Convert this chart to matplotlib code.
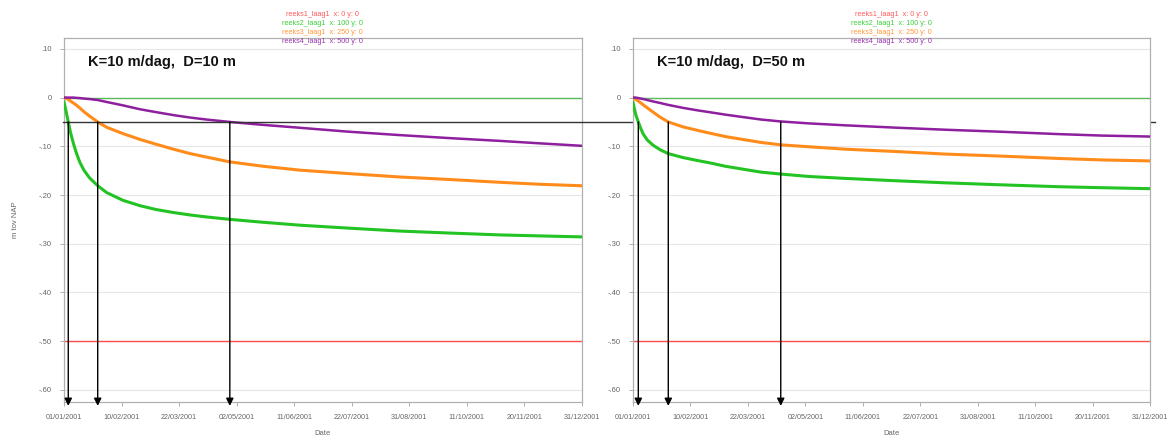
import matplotlib
matplotlib.use("Agg")
import matplotlib.pyplot as plt

# -----------------------------
# Data
# x = days since 01/01/2001, y = m tov NAP
# -----------------------------

TICK_DAYS = [0, 40.44, 80.89, 121.33, 161.78, 202.22, 242.67, 283.11, 323.56, 364]
TICK_LABELS = ["01/01/2001", "10/02/2001", "22/03/2001", "02/05/2001", "11/06/2001",
               "22/07/2001", "31/08/2001", "11/10/2001", "20/11/2001", "31/12/2001"]
Y_TICKS = [0.10, 0.0, -0.10, -0.20, -0.30, -0.40, -0.50, -0.60]
Y_LABELS = [".10", "0", "-.10", "-.20", "-.30", "-.40", "-.50", "-.60"]

LEGEND_LINES = ["reeks1_laag1  x: 0 y: 0", "reeks2_laag1  x: 100 y: 0",
                "reeks3_laag1  x: 250 y: 0", "reeks4_laag1  x: 500 y: 0"]

BOUNDARY_LEVEL = -0.50   # reeks1 (x = 0)
THRESHOLD = -0.05        # horizontal black line

# left panel: K=10 m/dag, D=10 m
LEFT_TITLE = "K=10 m/dag,  D=10 m"
LEFT_DAYS = [0, 1, 2, 3, 4.5, 6.5, 8.5, 11, 14, 18, 23.7, 30, 41.5, 53.5, 65, 77,
             88.7, 100, 116.6, 140, 166, 200, 236, 270, 307, 335, 364]
LEFT_GREEN = [-0.009, -0.022, -0.036, -0.050, -0.071, -0.093, -0.112, -0.132, -0.149,
              -0.165, -0.181, -0.195, -0.211, -0.222, -0.230, -0.236, -0.241, -0.245,
              -0.250, -0.256, -0.262, -0.268, -0.274, -0.278, -0.282, -0.284, -0.286]
LEFT_ORANGE = [0.0, -0.001, -0.002, -0.004, -0.007, -0.011, -0.015, -0.021, -0.029,
               -0.038, -0.050, -0.061, -0.074, -0.086, -0.096, -0.106, -0.115, -0.122,
               -0.132, -0.141, -0.149, -0.156, -0.163, -0.168, -0.174, -0.178, -0.181]
LEFT_PURPLE = [0.0, 0.0, 0.0, 0.0, 0.0, 0.0, -0.0005, -0.001, -0.002,
               -0.003, -0.005, -0.009, -0.016, -0.024, -0.030, -0.036, -0.041, -0.045,
               -0.050, -0.056, -0.062, -0.070, -0.077, -0.083, -0.089, -0.094, -0.099]
LEFT_ARROWS = [3.0, 23.7, 116.6]

# right panel: K=10 m/dag, D=50 m
RIGHT_TITLE = "K=10 m/dag,  D=50 m"
RIGHT_DAYS = [0, 1, 2, 3.7, 5.5, 7.2, 10, 14.2, 19, 24.8, 35, 45, 54, 65, 77.4, 90,
              104, 124, 150, 187, 220, 258, 300, 330, 364]
RIGHT_GREEN = [-0.010, -0.024, -0.036, -0.050, -0.064, -0.075, -0.087, -0.098, -0.107,
               -0.115, -0.123, -0.129, -0.134, -0.141, -0.147, -0.153, -0.157, -0.162,
               -0.166, -0.171, -0.175, -0.179, -0.183, -0.185, -0.187]
RIGHT_ORANGE = [0.0, -0.002, -0.004, -0.007, -0.011, -0.015, -0.021, -0.030, -0.040,
                -0.050, -0.060, -0.067, -0.073, -0.080, -0.086, -0.092, -0.097, -0.101,
                -0.106, -0.111, -0.116, -0.120, -0.125, -0.128, -0.130]
RIGHT_PURPLE = [0.0, 0.0, 0.0, -0.001, -0.002, -0.003, -0.005, -0.008, -0.011,
                -0.015, -0.021, -0.026, -0.030, -0.035, -0.040, -0.045, -0.049, -0.053,
                -0.057, -0.062, -0.066, -0.070, -0.075, -0.078, -0.080]
RIGHT_ARROWS = [3.7, 24.8, 104]


# -----------------------------
# Style
# -----------------------------

plt.rcParams["font.family"] = ["Liberation Sans", "DejaVu Sans"]

RED = "#ff4d4d"
GREEN = "#22c322"
REF_GREEN = "#5cb85c"
ORANGE = "#ff8c1a"
PURPLE = "#8e1f9e"
LEGEND_COLORS = ["#ff5a5a", "#3ccf3c", "#ff9a3c", "#9a35b0"]
TICK_COLOR = "#666666"
FRAME_COLOR = "#b0b0b0"


def draw_panel(ax, title, days, green, orange, purple, arrow_days, line_span):
    ax.set_xlim(0, 364)
    ax.set_ylim(-0.625, 0.1225)

    for y in Y_TICKS:
        ax.axhline(y, color="#e6e6e6", lw=0.8, zorder=0)

    ax.axhline(0.0, color=REF_GREEN, lw=1.0, zorder=2)
    ax.axhline(BOUNDARY_LEVEL, color=RED, lw=1.0, zorder=2)

    ax.plot(days, green, color=GREEN, lw=2.2, zorder=3)
    ax.plot(days, orange, color=ORANGE, lw=2.2, zorder=3)
    ax.plot(days, purple, color=PURPLE, lw=1.8, zorder=3)

    if line_span is not None:
        ax.axhline(THRESHOLD, xmin=line_span[0], xmax=line_span[1],
                   color="#333333", lw=1.0, clip_on=False, zorder=4)

    for d in arrow_days:
        ax.annotate("", xy=(d, -0.633), xytext=(d, THRESHOLD),
                    arrowprops=dict(arrowstyle="-|>", color="black", lw=1.0,
                                    mutation_scale=11, shrinkA=0, shrinkB=0),
                    annotation_clip=False, zorder=5)

    ax.text(0.046, 0.934, title, transform=ax.transAxes, fontsize=10.5,
            fontweight="bold", color="#111111", va="center")

    # colored legend block above the plot
    for i, (txt, col) in enumerate(zip(LEGEND_LINES, LEGEND_COLORS)):
        ax.text(0.5, 1.063 - i * 0.0247, txt, transform=ax.transAxes,
                ha="center", va="center", fontsize=5.2, color=col)

    ax.set_xticks(TICK_DAYS)
    ax.set_xticklabels(TICK_LABELS, fontsize=5.2, color=TICK_COLOR)
    ax.set_yticks(Y_TICKS)
    ax.set_yticklabels(Y_LABELS, fontsize=5.5, color=TICK_COLOR)
    ax.tick_params(axis="both", length=3, width=0.7, color=FRAME_COLOR, pad=6)
    ax.set_xlabel("Date", fontsize=5.5, color=TICK_COLOR, labelpad=6)

    for s in ax.spines.values():
        s.set_color(FRAME_COLOR)
        s.set_linewidth(0.9)


def main():
    fig = plt.figure(figsize=(11.68, 4.36), dpi=100)
    ax1 = fig.add_axes([0.0548, 0.078, 0.4432, 0.835])
    ax2 = fig.add_axes([0.542, 0.078, 0.4426, 0.835])

    # threshold line runs from the left panel across the gap to the right one
    draw_panel(ax1, LEFT_TITLE, LEFT_DAYS, LEFT_GREEN, LEFT_ORANGE, LEFT_PURPLE,
               LEFT_ARROWS, (-0.002, 2.108))
    draw_panel(ax2, RIGHT_TITLE, RIGHT_DAYS, RIGHT_GREEN, RIGHT_ORANGE, RIGHT_PURPLE,
               RIGHT_ARROWS, None)

    ax1.set_ylabel("m tov NAP", fontsize=5.5, color=TICK_COLOR, labelpad=14)

    fig.savefig("out.png", dpi=100)
    plt.close(fig)


if __name__ == "__main__":
    main()
